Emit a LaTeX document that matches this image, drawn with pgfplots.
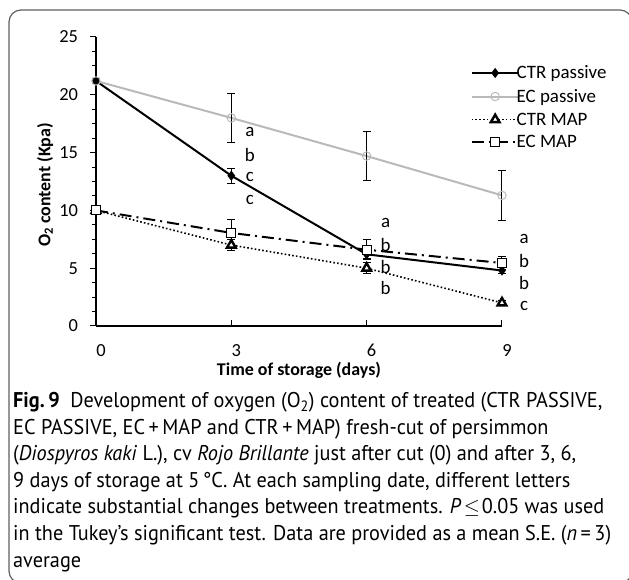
\documentclass[border=0pt]{standalone}
\usepackage{fontspec}
\setmainfont{Carlito}
\newfontfamily\capfont{PT Sans}[FakeStretch=0.95]
\usepackage{pgfplots}
\pgfplotsset{compat=1.18}
\definecolor{ecgray}{RGB}{185,185,185}
\definecolor{boxgray}{RGB}{95,95,95}

\begin{document}
\begin{tikzpicture}
\useasboundingbox (0,0) rectangle (629bp,580bp);
\draw[boxgray, line width=1.2bp, rounded corners=12bp] (9bp,-3bp) rectangle (632bp,570bp);
\begin{axis}[
  at={(96bp,254bp)}, anchor=south west,
  scale only axis, width=406bp, height=289bp,
  xmin=0, xmax=9, ymin=0, ymax=25,
  clip=false,
  axis x line*=bottom, axis y line*=left,
  axis line style={-, line width=1.3bp, black},
  xtick={0,3,6,9}, ytick={0,5,10,15,20,25},
  minor y tick num=3, minor x tick num=0,
  tick align=outside,
  major tick length=6bp, minor tick length=4bp,
  tick style={black, line width=1bp},
  xtick style={yshift=6bp},
  /pgf/number format/assume math mode=true,
  ticklabel style={font=\fontsize{18.5}{20}\selectfont},
  xticklabel style={xshift=5bp, yshift=-9bp},
  yticklabel style={xshift=-8.5bp},
  xlabel={Time of storage (days)},
  ylabel={O\textsubscript{2} content (Kpa)},
  label style={font=\fontsize{18}{20}\selectfont\bfseries},
  xlabel style={at={(axis description cs:0.5,-0.1696)}, anchor=base},
  ylabel style={at={(axis description cs:-0.1256,0.488)}, anchor=center},
  legend style={at={(axis description cs:0.915,0.915)}, anchor=north west,
    draw=none, fill=none, font=\fontsize{19}{21}\selectfont, row sep=5bp, column sep=-5bp},
  legend cell align=left,
  legend image code/.code={\draw[mark repeat=2,mark phase=2,#1] plot coordinates {(0bp,0bp) (23.5bp,0bp) (47bp,0bp)};},
  error bars/y dir=both, error bars/y explicit,
  error bars/error mark=|,
  error bars/error bar style={solid, black, line width=1bp},
  error bars/error mark options={solid, black, line width=1bp, mark size=4bp},
]
\addplot[black, line width=2bp, mark=diamond*, mark size=3.5bp, mark options={solid}]
  coordinates {(0,21.2) +- (0,0.15) (3,13.0) +- (0,0.65) (6,6.2) +- (0,0.4) (9,4.8) +- (0,0.3)};
\addlegendentry{CTR passive}
\addplot[ecgray, line width=2bp, mark=o, mark size=4.2bp, mark options={solid, line width=1bp}]
  coordinates {(0,21.2) +- (0,0.2) (3,18.0) +- (0,2.1) (6,14.7) +- (0,2.1) (9,11.3) +- (0,2.15)};
\addlegendentry{EC passive}
\addplot[black, line width=1.6bp, dash pattern=on 1.6bp off 2.2bp, mark=triangle*, mark size=5bp, mark options={solid, fill=white, line width=2.4bp}]
  coordinates {(0,10) +- (0,0.2) (3,7.0) +- (0,0.5) (6,5.0) +- (0,0.5) (9,2.0) +- (0,0.2)};
\addlegendentry{CTR MAP}
\addplot[black, line width=2bp, dash pattern=on 12bp off 5bp on 2bp off 5bp, mark=square*, mark size=4.5bp, mark options={solid, fill=white, line width=1bp}]
  coordinates {(0,10) +- (0,0.2) (3,8.05) +- (0,1.15) (6,6.6) +- (0,0.85) (9,5.45) +- (0,0.6)};
\addlegendentry{EC MAP}
\begin{scope}[every node/.style={font=\fontsize{19}{21}\selectfont, anchor=center}]
\node at (axis cs:3.41,16.8) {a};
\node at (axis cs:3.41,14.8) {b};
\node at (axis cs:3.41,12.9) {c};
\node at (axis cs:3.41,10.9) {c};
\node at (axis cs:6.42,8.9) {a};
\node at (axis cs:6.42,7.0) {b};
\node at (axis cs:6.42,5.1) {b};
\node at (axis cs:6.42,3.3) {b};
\node at (axis cs:9.49,7.5) {a};
\node at (axis cs:9.49,5.6) {b};
\node at (axis cs:9.49,3.7) {b};
\node at (axis cs:9.49,1.7) {c};
\end{scope}
\end{axis}
\begin{scope}[every node/.style={anchor=base west, inner sep=0pt, font=\capfont\fontsize{21.4}{26}\selectfont}]
\node at (13bp,172bp) {\textbf{Fig.\,9}\enspace Development of oxygen (O\textsubscript{2}) content of treated (CTR PASSIVE,};
\node at (13bp,145.5bp) {EC PASSIVE, EC\,+\,MAP and CTR\,+\,MAP) fresh-cut of persimmon};
\node at (13bp,119bp) {(\textit{Diospyros kaki} L.), cv \textit{Rojo Brillante} just after cut (0) and after 3, 6,};
\node at (13bp,92.5bp) {9 days of storage at 5\,°C. At each sampling date, different letters};
\node at (13bp,66bp) {indicate substantial changes between treatments. \textit{P}\hspace{2.5bp}$\leq$\hspace{2bp}0.05 was used};
\node at (13bp,39.5bp) {in the Tukey’s significant test. Data are provided as a mean S.E. (\textit{n}\,=\,3)};
\node at (13bp,13bp) {average};
\end{scope}
\end{tikzpicture}
\end{document}
